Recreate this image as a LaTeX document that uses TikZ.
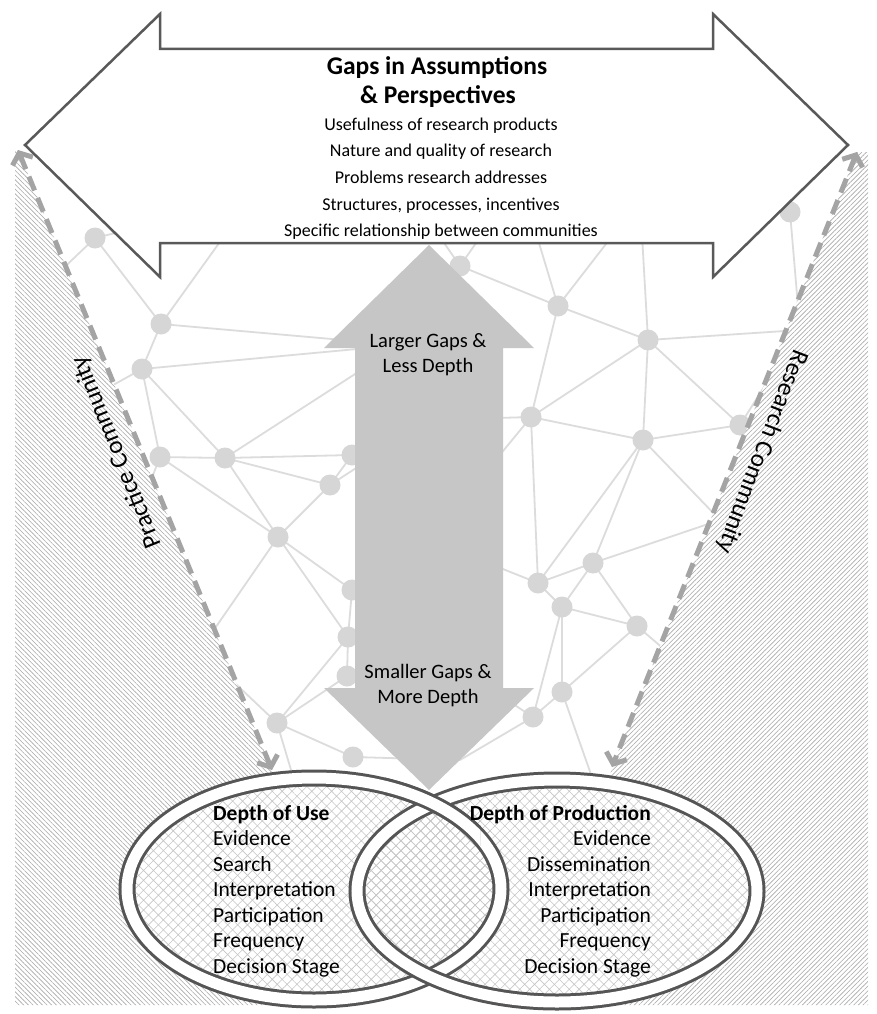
\documentclass[tikz,border=0pt]{standalone}
\usepackage{fontspec}
\setmainfont{Carlito}
\usetikzlibrary{arrows.meta,patterns.meta}
\definecolor{outl}{HTML}{595959}
\definecolor{netc}{HTML}{DCDCDC}
\definecolor{netdot}{HTML}{D6D6D6}
\definecolor{garrow}{HTML}{C6C6C6}
\definecolor{dashc}{HTML}{A4A4A4}
\definecolor{hatchc}{HTML}{A8A8A8}
\definecolor{xhatch}{HTML}{C6C6C6}
\definecolor{ringc}{HTML}{555555}
\tikzset{
  netline/.style={draw=netc, line width=1.8pt},
  netdotst/.style={circle, fill=netdot, inner sep=0pt, minimum size=21pt},
  sidehatch/.style={pattern={Lines[angle=#1,distance=3.3pt,line width=0.6pt]}, pattern color=hatchc},
  commline/.style={draw=dashc, line width=5pt, dash pattern=on 15pt off 8pt,
    {Straight Barb[length=9pt,width=22pt]}-{Straight Barb[length=9pt,width=22pt]}},
  ringout/.style={draw=ringc, line width=17pt},
  ringin/.style={draw=white, line width=11pt},
  titlef/.style={font=\fontsize{25.5pt}{30pt}\selectfont\bfseries, inner sep=0pt},
  listf/.style={font=\fontsize{18pt}{22pt}\selectfont, inner sep=0pt},
  arrf/.style={font=\fontsize{20.5pt}{24pt}\selectfont, inner sep=0pt},
  ellf/.style={font=\fontsize{21.5pt}{25pt}\selectfont, inner sep=0pt},
  ellhead/.style={font=\fontsize{21.5pt}{25pt}\selectfont\bfseries, inner sep=0pt},
  sidef/.style={font=\fontsize{25pt}{29pt}\selectfont, inner sep=0pt},
}
\begin{document}
\begin{tikzpicture}[x=1pt,y=-1pt]
\useasboundingbox (0,0) rectangle (876,1014);
\fill[white] (0,0) rectangle (876,1014);

% ---------- network (background) ----------
\foreach \n/\px/\py in {a1/95/238, a2/161/324, a3/142/369, a4/160/457, a5/225/458,
  a6/330/485, a7/278/537, a8/352/455, a9/352/590, a10/348/637, a11/347/676,
  a12/277/723, a13/353/757, b1/460/266, b2/558/306, b3/648/340, b4/531/417,
  b5/643/440, b6/740/425, b7/593/563, b8/538/583, b9/562/607, b10/637/626,
  b11/562/692, b12/533/717, b13/790/212,
  h1/250/200, h2/380/150, h3/520/180, h4/640/200, h5/400/345, h6/430/420,
  h7/430/540, h8/430/650, h9/30/300, h10/50/420, h11/120/560, h12/200/650,
  h13/300/800, h14/600/800, h15/720/520, h16/800/330, h17/700/680, h18/460/760}
  \coordinate (\n) at (\px,\py);
\foreach \a/\b in {a1/a2, a1/h1, a1/h9, a2/a3, a2/h5, a2/h1, a3/h5, a3/a4, a3/a5,
  a3/h10, a4/a5, a4/h11, a4/a7, a5/a6, a5/a7, a5/a8, a5/h5, a6/a8, a6/a7, a6/h6,
  a7/a9, a7/h12, a7/a10, a9/a10, a9/h7, a10/a11, a10/a12, a11/a12, a11/h8,
  a12/a13, a12/h12, a12/h13, a13/h18,
  b1/b2, b1/h2, b1/h3, b1/h6, b2/b3, b2/b4, b2/h4, b2/h3, b3/b4, b3/b5, b3/b6,
  b3/h4, b3/h16, b4/b5, b4/h6, b4/b8, b4/h7, b5/b6, b5/b7, b5/b8, b5/h15,
  b6/h16, b13/h16, b13/h4, b7/b8, b7/b9, b7/b10, b7/h15, b8/b9, b8/h7,
  b9/b10, b9/b11, b9/b12, b10/b11, b10/h17, b11/b12, b11/h14, b12/h8, b12/h18}
  \draw[netline] (\a) -- (\b);
\foreach \n in {a1,a2,a3,a4,a5,a6,a7,a8,a9,a10,a11,a12,a13,
  b1,b2,b3,b4,b5,b6,b7,b8,b9,b10,b11,b12,b13}
  \node[netdotst] (d-\n) at (\n) {};

% ---------- hatched community regions ----------
\coordinate (pcTop) at (18,150);
\coordinate (pcBot) at (272,770);
\coordinate (rcTop) at (857,152);
\coordinate (rcBot) at (612,767);
\fill[white] (15,150) -- (pcTop) -- (pcBot) -- (314,1005) -- (15,1005) -- cycle;
\fill[sidehatch=-45] (15,150) -- (pcTop) -- (pcBot) -- (314,1005) -- (15,1005) -- cycle;
\fill[white] (868,152) -- (rcTop) -- (rcBot) -- (557,1005) -- (868,1005) -- cycle;
\fill[sidehatch=45] (868,152) -- (rcTop) -- (rcBot) -- (557,1005) -- (868,1005) -- cycle;

\draw[commline] (pcTop) -- (pcBot);
\draw[commline] (rcTop) -- (rcBot);

\node[sidef, rotate=112] (pc) at (117,452) {Practice Community};
\node[sidef, rotate=-111] (rc) at (762,452) {Research Community};

% ---------- vertical grey double arrow ----------
\fill[garrow] (429,245) -- (534,348) -- (503,348) -- (503,688) -- (534,688)
  -- (429,790) -- (324,688) -- (355,688) -- (355,348) -- (324,348) -- cycle;
\node[arrf, anchor=base] (g1) at (428,347) {Larger Gaps \&};
\node[arrf, anchor=base] (g2) at (428,372) {Less Depth};
\node[arrf, anchor=base] (g3) at (428,678) {Smaller Gaps \&};
\node[arrf, anchor=base] (g4) at (428,703) {More Depth};

% ---------- big white double arrow ----------
\draw[fill=white, draw=outl, line width=2.5pt, line join=miter]
  (25,145) -- (160,14) -- (160,49) -- (713,49) -- (713,14) -- (848,145)
  -- (713,277) -- (713,243) -- (160,243) -- (160,277) -- cycle;
\node[titlef, anchor=base] (t1) at (437,75) {Gaps in Assumptions};
\node[titlef, anchor=base] (t2) at (438,104) {\& Perspectives};
\foreach [count=\i] \t in {Usefulness of research products, Nature and quality of research,
  Problems research addresses, {Structures, processes, incentives},
  Specific relationship between communities}
  \node[listf, anchor=base] (l\i) at (441,{130.5+26.5*(\i-1)}) {\t};

% ---------- interlocking ellipses ----------
\fill[white] (314,889) ellipse [x radius=187pt, y radius=111pt];
\fill[white] (557,891) ellipse [x radius=200pt, y radius=111pt];
\fill[pattern={Hatch[angle=45,distance=7pt,line width=0.6pt]}, pattern color=xhatch]
  (314,889) ellipse [x radius=187pt, y radius=111pt];
\fill[pattern={Hatch[angle=45,distance=7pt,line width=0.6pt]}, pattern color=xhatch]
  (557,891) ellipse [x radius=200pt, y radius=111pt];
\draw[ringout] (314,889) ellipse [x radius=187pt, y radius=111pt];
\draw[ringin] (314,889) ellipse [x radius=187pt, y radius=111pt];
\draw[ringout] (557,891) ellipse [x radius=200pt, y radius=111pt];
\draw[ringin] (557,891) ellipse [x radius=200pt, y radius=111pt];
\begin{scope}
  \clip (385,770) rectangle (480,845);
  \draw[ringout] (314,889) ellipse [x radius=187pt, y radius=111pt];
  \draw[ringin] (314,889) ellipse [x radius=187pt, y radius=111pt];
\end{scope}

\node[ellhead, anchor=base west] (u0) at (213,820) {Depth of Use};
\foreach [count=\i] \t in {Evidence,Search,Interpretation,Participation,Frequency,Decision Stage}
  \node[ellf, anchor=base west] (u\i) at (213,{820+25.55*\i}) {\t};
\node[ellhead, anchor=base east] (p0) at (651,820) {Depth of Production};
\foreach [count=\i] \t in {Evidence,Dissemination,Interpretation,Participation,Frequency,Decision Stage}
  \node[ellf, anchor=base east] (p\i) at (651,{820+25.55*\i}) {\t};
\end{tikzpicture}
\end{document}
